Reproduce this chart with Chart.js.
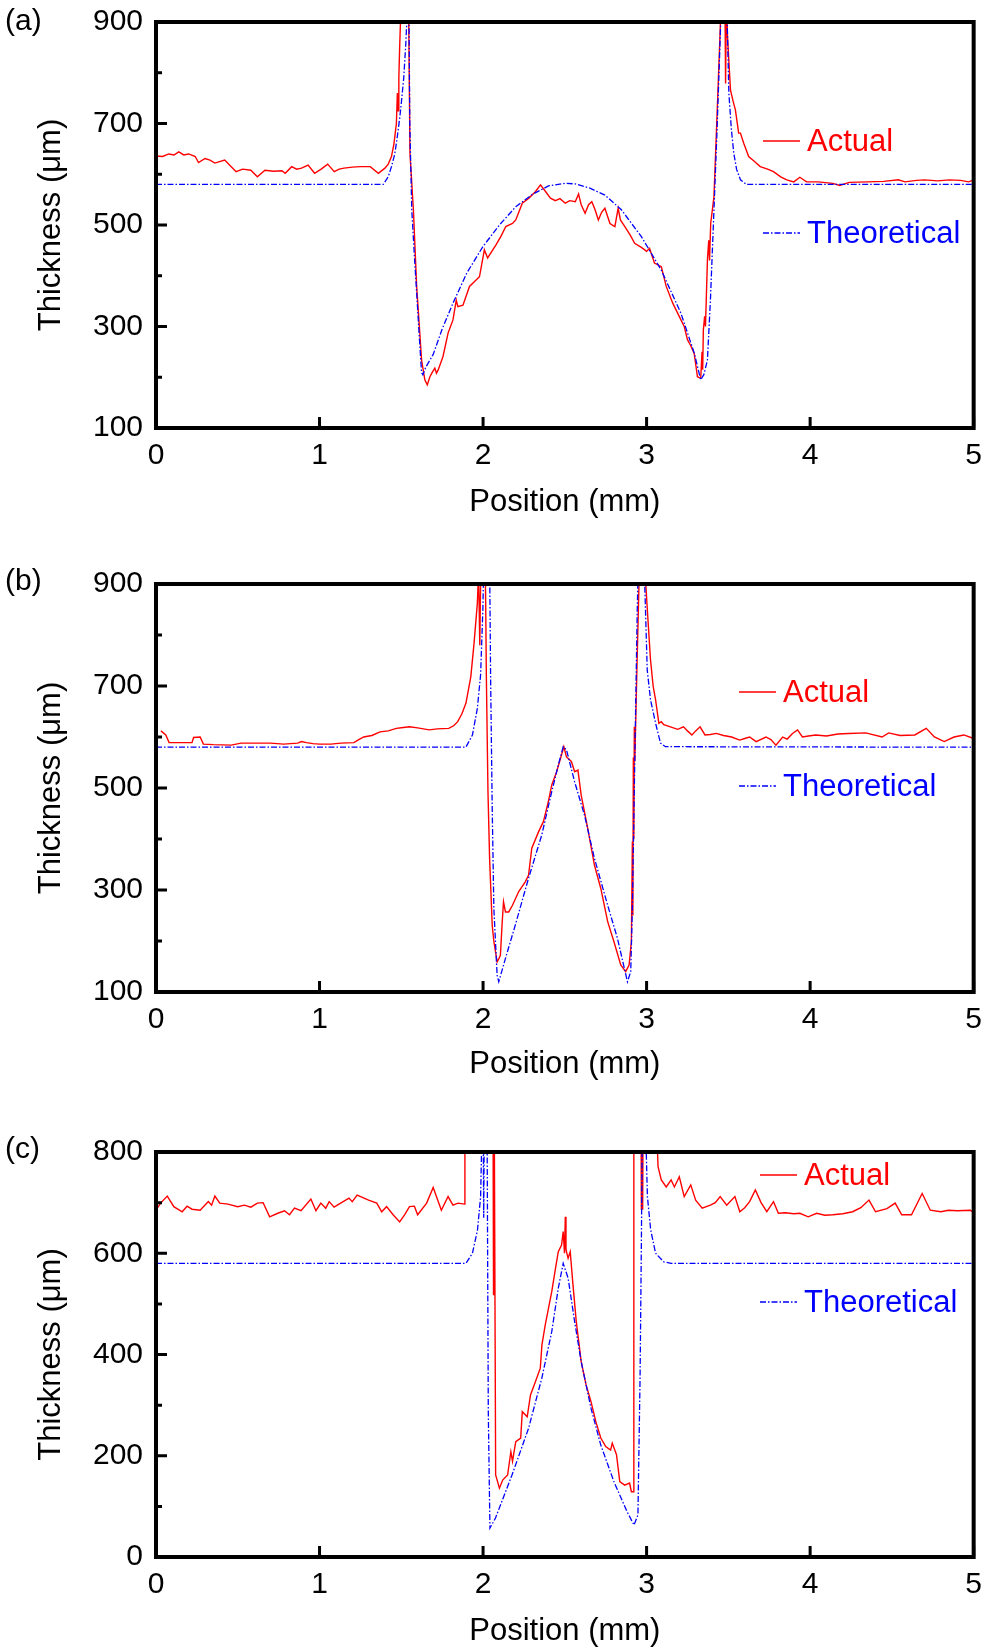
<!DOCTYPE html>
<html>
<head>
<meta charset="utf-8">
<script src="https://cdn.jsdelivr.net/npm/chart.js@4.4.1/dist/chart.umd.min.js"></script>
<style>
  body { margin: 0; background: #fff; }
  .panel { position: absolute; left: 0; }
</style>
</head>
<body>
<canvas id="chartA" class="panel" style="top:0px" width="992" height="540"></canvas>
<canvas id="chartB" class="panel" style="top:560px" width="992" height="540"></canvas>
<canvas id="chartC" class="panel" style="top:1120px" width="992" height="528"></canvas>

<script>
// axis ticks
const xTicks = [0, 1, 2, 3, 4, 5];
const yTicksAB = [100, 300, 500, 700, 900];
const yMinorAB = [200, 400, 600, 800];
const yTicksC = [0, 200, 400, 600, 800];
const yMinorC = [100, 300, 500, 700];

// (a) position (mm), thickness (um)
const actualA = [[0,636],[0.04,635],[0.079,640],[0.11,638],[0.139,644],[0.17,638],[0.2,640],[0.24,635],[0.26,623],[0.3,631],[0.33,628],[0.36,622],[0.42,628],[0.46,615],[0.49,605],[0.53,610],[0.58,608],[0.62,595],[0.666,608],[0.72,606],[0.77,607],[0.79,602],[0.83,615],[0.86,610],[0.89,612],[0.93,618],[0.97,602],[1.01,610],[1.05,620],[1.09,605],[1.12,610],[1.15,612],[1.2,614],[1.25,615],[1.31,615],[1.36,602],[1.4,612],[1.42,620],[1.44,635],[1.455,660],[1.463,681],[1.47,700],[1.476,760],[1.48,725],[1.485,790],[1.49,850],[1.497,920],[1.51,1100],[1.53,1200],[1.545,920],[1.553,641],[1.574,530],[1.594,379],[1.624,234],[1.644,195],[1.659,185],[1.675,201],[1.69,210],[1.705,218],[1.715,208],[1.725,214],[1.755,241],[1.786,287],[1.816,313],[1.836,352],[1.846,339],[1.877,342],[1.917,379],[1.978,398],[2.008,451],[2.028,435],[2.079,461],[2.11,478],[2.139,497],[2.18,503],[2.2,510],[2.24,543],[2.28,553],[2.321,566],[2.351,579],[2.382,566],[2.412,553],[2.442,548],[2.47,552],[2.503,543],[2.53,548],[2.564,546],[2.584,561],[2.6,540],[2.624,523],[2.645,540],[2.665,546],[2.685,530],[2.705,510],[2.725,525],[2.745,533],[2.776,503],[2.806,497],[2.826,533],[2.84,510],[2.867,497],[2.9,480],[2.927,464],[2.968,456],[3.0,448],[3.018,454],[3.048,425],[3.09,418],[3.12,379],[3.16,346],[3.21,313],[3.23,300],[3.25,274],[3.27,262],[3.291,247],[3.311,201],[3.331,198],[3.339,250],[3.343,215],[3.347,293],[3.355,320],[3.36,300],[3.372,431],[3.38,470],[3.385,430],[3.392,503],[3.412,556],[3.432,727],[3.447,858],[3.455,930],[3.465,1050],[3.47,950],[3.476,1080],[3.483,779],[3.488,950],[3.495,870],[3.513,766],[3.528,745],[3.543,727],[3.563,681],[3.574,681],[3.594,661],[3.624,635],[3.66,625],[3.695,615],[3.74,610],[3.776,605],[3.82,595],[3.857,589],[3.9,585],[3.937,594],[3.978,585],[4.05,585],[4.139,582],[4.18,578],[4.24,584],[4.35,585],[4.45,586],[4.54,589],[4.58,585],[4.65,588],[4.7,589],[4.78,587],[4.85,589],[4.92,588],[4.97,585],[5.0,589]];
const theoryA = [[0,580],[1.39,580],[1.42,595],[1.44,615],[1.46,640],[1.473,668],[1.49,710],[1.5,740],[1.515,790],[1.528,860],[1.536,920],[1.541,1300],[1.546,950],[1.552,700],[1.564,530],[1.58,440],[1.594,366],[1.61,280],[1.624,209],[1.632,205],[1.65,220],[1.695,245],[1.75,295],[1.816,346],[1.9,405],[1.998,457],[2.1,500],[2.2,536],[2.3,560],[2.4,577],[2.5,582],[2.564,581],[2.65,573],[2.745,559],[2.846,530],[2.968,477],[3.09,411],[3.21,326],[3.291,248],[3.331,195],[3.35,205],[3.372,234],[3.39,350],[3.412,530],[3.43,680],[3.442,792],[3.453,897],[3.46,1100],[3.473,1300],[3.485,1050],[3.493,897],[3.503,760],[3.518,690],[3.533,642],[3.55,610],[3.574,589],[3.61,580],[5,580]];

// (b)
const actualB = [[0.03,612],[0.06,604],[0.08,589],[0.15,589],[0.22,589],[0.23,599],[0.27,600],[0.29,586],[0.35,585],[0.46,584],[0.52,588],[0.6,588],[0.7,588],[0.78,586],[0.866,588],[0.89,591],[0.92,589],[0.96,587],[1.0,586],[1.07,586],[1.13,588],[1.21,589],[1.24,595],[1.27,600],[1.32,603],[1.37,610],[1.42,612],[1.47,617],[1.5,618],[1.55,620],[1.6,618],[1.67,614],[1.72,616],[1.79,617],[1.82,622],[1.845,630],[1.87,645],[1.895,666],[1.925,718],[1.945,784],[1.965,862],[1.972,920],[1.976,860],[1.98,780],[1.985,900],[1.995,1100],[2.01,1000],[2.016,865],[2.02,722],[2.03,493],[2.04,362],[2.056,231],[2.066,199],[2.086,159],[2.096,165],[2.106,172],[2.116,231],[2.125,277],[2.137,257],[2.157,257],[2.18,270],[2.218,297],[2.258,316],[2.278,329],[2.298,382],[2.339,414],[2.369,434],[2.399,473],[2.42,506],[2.45,532],[2.48,565],[2.494,581],[2.51,561],[2.54,552],[2.56,532],[2.58,535],[2.6,486],[2.64,421],[2.681,349],[2.72,303],[2.762,238],[2.8,199],[2.842,153],[2.872,140],[2.893,153],[2.907,199],[2.913,395],[2.916,250],[2.919,560],[2.922,400],[2.925,620],[2.928,552],[2.94,722],[2.955,920],[2.97,1100],[2.985,950],[2.995,900],[3.004,852],[3.024,751],[3.04,700],[3.055,673],[3.075,627],[3.09,630],[3.105,624],[3.146,620],[3.19,615],[3.226,620],[3.25,612],[3.277,604],[3.3,612],[3.327,620],[3.357,604],[3.39,605],[3.427,607],[3.47,603],[3.52,600],[3.569,594],[3.6,597],[3.63,600],[3.67,591],[3.73,600],[3.76,595],[3.791,584],[3.832,600],[3.86,596],[3.892,607],[3.923,614],[3.953,600],[3.99,602],[4.034,604],[4.1,602],[4.17,606],[4.236,607],[4.34,608],[4.44,600],[4.48,608],[4.55,603],[4.64,604],[4.71,617],[4.76,600],[4.82,591],[4.88,600],[4.94,604],[5.0,597]];
const theoryB = [[0,580],[1.895,580],[1.935,604],[1.965,656],[1.985,722],[1.999,852],[2.005,950],[2.02,1400],[2.04,950],[2.046,722],[2.056,460],[2.066,264],[2.086,133],[2.096,120],[2.137,166],[2.197,231],[2.278,323],[2.359,408],[2.42,493],[2.46,545],[2.49,581],[2.51,575],[2.56,512],[2.62,447],[2.681,362],[2.762,270],[2.822,205],[2.883,120],[2.903,140],[2.913,264],[2.923,460],[2.933,656],[2.943,852],[2.95,950],[2.965,1400],[2.984,950],[3.004,731],[3.024,673],[3.055,627],[3.085,588],[3.115,581],[5,580]];

// (c)
const actualC = [[0,685],[0.028,699],[0.069,713],[0.109,692],[0.16,682],[0.19,693],[0.22,687],[0.27,685],[0.32,702],[0.34,695],[0.36,713],[0.39,699],[0.44,697],[0.5,692],[0.54,695],[0.58,691],[0.62,699],[0.655,700],[0.695,672],[0.745,679],[0.786,684],[0.816,676],[0.847,689],[0.887,684],[0.947,707],[0.978,684],[1.008,699],[1.038,689],[1.059,702],[1.089,691],[1.129,699],[1.18,709],[1.2,702],[1.23,715],[1.3,705],[1.35,699],[1.38,682],[1.41,692],[1.45,676],[1.49,662],[1.52,676],[1.55,692],[1.58,693],[1.6,676],[1.655,699],[1.695,730],[1.745,685],[1.786,712],[1.816,695],[1.847,699],[1.887,697],[1.889,1000],[2.06,1000],[2.064,517],[2.067,1000],[2.077,162],[2.1,136],[2.12,152],[2.15,162],[2.17,208],[2.18,189],[2.2,228],[2.23,235],[2.24,287],[2.27,277],[2.29,320],[2.32,346],[2.35,373],[2.36,419],[2.38,458],[2.4,491],[2.42,524],[2.44,564],[2.46,603],[2.48,616],[2.49,643],[2.498,600],[2.503,672],[2.507,610],[2.51,603],[2.52,590],[2.533,603],[2.55,537],[2.57,465],[2.6,386],[2.63,340],[2.66,307],[2.69,267],[2.72,235],[2.75,218],[2.78,211],[2.79,225],[2.816,202],[2.836,149],[2.866,142],[2.896,146],[2.907,129],[2.92,129],[2.922,1000],[2.965,1000],[2.968,686],[2.972,1000],[2.976,686],[2.98,1000],[3.045,1000],[3.07,771],[3.09,745],[3.12,731],[3.15,745],[3.17,731],[3.2,751],[3.23,712],[3.27,735],[3.3,705],[3.34,689],[3.39,695],[3.42,700],[3.45,712],[3.49,695],[3.54,712],[3.57,682],[3.6,690],[3.63,702],[3.665,725],[3.7,700],[3.735,682],[3.776,702],[3.806,679],[3.85,680],[3.9,678],[3.937,679],[3.988,672],[4.04,679],[4.09,675],[4.139,676],[4.2,678],[4.26,682],[4.31,690],[4.36,705],[4.4,682],[4.47,688],[4.52,699],[4.56,676],[4.62,676],[4.685,718],[4.735,685],[4.8,682],[4.845,685],[4.9,684],[4.98,685],[5.0,680]];
const theoryC = [[0,580],[1.895,580],[1.935,600],[1.966,646],[1.985,712],[1.992,820],[1.998,1000],[2.004,670],[2.01,1000],[2.024,900],[2.032,287],[2.042,57],[2.076,77],[2.177,162],[2.278,254],[2.359,353],[2.42,445],[2.46,531],[2.49,580],[2.52,551],[2.56,465],[2.6,386],[2.66,294],[2.72,221],[2.8,149],[2.88,90],[2.923,63],[2.947,83],[2.96,353],[2.968,616],[2.975,900],[2.982,1100],[2.99,900],[3.005,712],[3.025,646],[3.055,600],[3.105,583],[3.15,580],[5,580]];

const FONT = '"Liberation Sans", Arial, sans-serif';

// frame, inward ticks, panel letter and legend
const framePlugin = {
  id: 'frame',
  afterDatasetsDraw(chart, args, o) {
    const { ctx, chartArea: a, scales: { x, y } } = chart;
    ctx.save();
    ctx.strokeStyle = '#000';
    ctx.lineWidth = 3;
    ctx.beginPath();
    o.yMajor.forEach(v => {
      const py = y.getPixelForValue(v);
      ctx.moveTo(a.left, py); ctx.lineTo(a.left + 11, py);
    });
    o.yMinor.forEach(v => {
      const py = y.getPixelForValue(v);
      ctx.moveTo(a.left, py); ctx.lineTo(a.left + 6, py);
    });
    xTicks.forEach(v => {
      const px = x.getPixelForValue(v);
      ctx.moveTo(px, a.bottom); ctx.lineTo(px, a.bottom - 11);
    });
    ctx.stroke();
    ctx.lineWidth = 4;
    ctx.strokeRect(a.left, a.top, a.right - a.left, a.bottom - a.top);

    ctx.fillStyle = '#000';
    ctx.font = '30px ' + FONT;
    ctx.textAlign = 'left';
    ctx.textBaseline = 'middle';
    ctx.fillText(o.label, 5, o.labelY);

    ctx.font = '31px ' + FONT;
    chart.data.datasets.forEach((ds, i) => {
      const lx = a.left + o.legendX;
      const ly = a.top + o.legendY[i];
      ctx.strokeStyle = ds.borderColor;
      ctx.lineWidth = 1.4;
      ctx.setLineDash(ds.borderDash || []);
      ctx.beginPath();
      ctx.moveTo(lx, ly); ctx.lineTo(lx + 37, ly);
      ctx.stroke();
      ctx.setLineDash([]);
      ctx.fillStyle = ds.borderColor;
      ctx.fillText(ds.label, lx + 44, ly + 1);
    });
    ctx.restore();
  }
};

function makePanel(id, actual, theory, cfg) {
  return new Chart(document.getElementById(id), {
    type: 'scatter',
    data: {
      datasets: [
        { label: 'Actual', data: actual.map(([x, y]) => ({ x, y })), showLine: true,
          borderColor: '#ff0000', borderWidth: 1.4, pointRadius: 0, order: 1 },
        { label: 'Theoretical', data: theory.map(([x, y]) => ({ x, y })), showLine: true,
          borderColor: '#0000ff', borderWidth: 1.3, borderDash: [6, 2, 1.5, 2], pointRadius: 0, order: 0 }
      ]
    },
    plugins: [framePlugin],
    options: {
      responsive: false,
      animation: false,
      layout: { padding: { top: cfg.top, right: 10, left: 0, bottom: 0 } },
      plugins: {
        legend: { display: false },
        tooltip: { enabled: false },
        frame: { label: cfg.label, labelY: cfg.labelY, yMajor: cfg.yTicks, yMinor: cfg.yMinor,
                 legendX: cfg.legendX, legendY: cfg.legendY }
      },
      scales: {
        x: {
          type: 'linear', min: 0, max: 5,
          afterBuildTicks: s => { s.ticks = xTicks.map(v => ({ value: v })); },
          afterFit: s => { s.height = cfg.xHeight; },
          grid: { display: false, drawTicks: false },
          border: { display: false },
          ticks: { padding: 10, color: '#000', font: { size: 30, family: FONT } },
          title: { display: true, text: 'Position (mm)', color: '#000',
                   font: { size: 31, family: FONT, lineHeight: 1 }, padding: { top: 0, bottom: cfg.xTitlePad } }
        },
        y: {
          type: 'linear', min: cfg.yMin, max: cfg.yMax,
          afterBuildTicks: s => { s.ticks = cfg.yTicks.map(v => ({ value: v })); },
          afterFit: s => { s.width = 156; s.paddingTop = 0; s.paddingBottom = 0; },
          grid: { display: false, drawTicks: false },
          border: { display: false },
          ticks: { padding: 13, color: '#000', font: { size: 30, family: FONT, lineHeight: 0.6 } },
          title: { display: true, text: 'Thickness (μm)', color: '#000',
                   font: { size: 31, family: FONT }, padding: { top: 33, bottom: 0 } }
        }
      }
    }
  });
}

makePanel('chartA', actualA, theoryA, {
  label: '(a)', labelY: 22, top: 22, xHeight: 112, xTitlePad: 22,
  yMin: 100, yMax: 900, yTicks: yTicksAB, yMinor: yMinorAB,
  legendX: 607, legendY: [119, 211]
});
makePanel('chartB', actualB, theoryB, {
  label: '(b)', labelY: 22, top: 24, xHeight: 108, xTitlePad: 20,
  yMin: 100, yMax: 900, yTicks: yTicksAB, yMinor: yMinorAB,
  legendX: 583, legendY: [108, 202]
});
makePanel('chartC', actualC, theoryC, {
  label: '(c)', labelY: 30, top: 32, xHeight: 91, xTitlePad: 1,
  yMin: 0, yMax: 800, yTicks: yTicksC, yMinor: yMinorC,
  legendX: 604, legendY: [23, 150]
});
</script>
</body>
</html>
